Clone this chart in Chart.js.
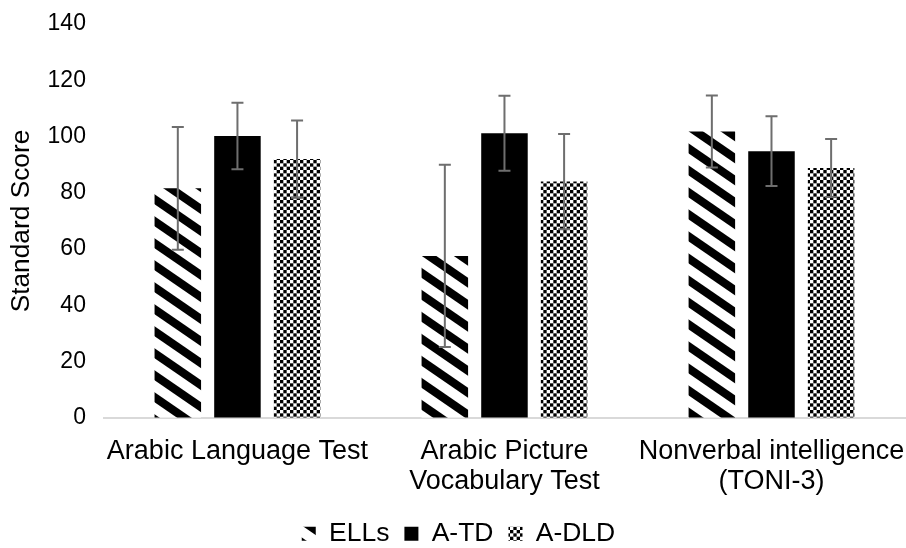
<!DOCTYPE html>
<html>
<head>
<meta charset="utf-8">
<title>Standard Score by Group</title>
<script src="https://cdn.jsdelivr.net/npm/chart.js@4.4.1/dist/chart.umd.min.js"></script>
<style>
  html, body { margin: 0; padding: 0; background: #ffffff; }
  #wrap { width: 906px; height: 548px; position: relative; }
</style>
</head>
<body>
<div id="wrap"><canvas id="chart" width="906" height="548"></canvas></div>
<script>
// Test categories (multi-line labels as arrays)
const categories = [
  'Arabic Language Test',
  ['Arabic Picture', 'Vocabulary Test'],
  ['Nonverbal intelligence', '(TONI-3)']
];

// Group means
const ellsMeans = [81.6, 57.6, 101.8];
const atdMeans  = [100.2, 101.2, 94.8];
const adldMeans = [92.0, 84.0, 88.8];

// Standard deviations (error bars)
const ellsSD = [21.8, 32.4, 12.8];
const atdSD  = [11.8, 13.3, 12.4];
const adldSD = [13.7, 16.9, 10.3];

// Y axis ticks
const yTicks = [0, 20, 40, 60, 80, 100, 120, 140];

const seriesNames = ['ELLs', 'A-TD', 'A-DLD'];

// Wide downward diagonal stripes
function stripePattern() {
  const w = 32, h = 22, t = 10;
  const c = document.createElement('canvas');
  c.width = w; c.height = h;
  const g = c.getContext('2d');
  g.fillStyle = '#ffffff';
  g.fillRect(0, 0, w, h);
  g.fillStyle = '#000000';
  for (let k = -h; k <= h; k += h) {
    g.beginPath();
    g.moveTo(0, k);
    g.lineTo(w, k + h);
    g.lineTo(w, k + h + t);
    g.lineTo(0, k + t);
    g.closePath();
    g.fill();
  }
  return g.createPattern(c, 'repeat');
}

// Fine checkerboard
function checkerPattern() {
  const size = 20, n = 6, cell = size / n;
  const c = document.createElement('canvas');
  c.width = size; c.height = size;
  const g = c.getContext('2d');
  g.fillStyle = '#ffffff';
  g.fillRect(0, 0, size, size);
  g.fillStyle = '#000000';
  for (let i = 0; i < n; i++) {
    for (let j = 0; j < n; j++) {
      if ((i + j) % 2 === 0) g.fillRect(i * cell, j * cell, cell, cell);
    }
  }
  return g.createPattern(c, 'repeat');
}

const sdBySeries = [ellsSD, atdSD, adldSD];
const meansBySeries = [ellsMeans, atdMeans, adldMeans];

// Draws mean ± SD whiskers on top of each bar
const errorBars = {
  id: 'errorBars',
  afterDatasetsDraw(chart) {
    const ctx = chart.ctx;
    const y = chart.scales.y;
    ctx.save();
    ctx.strokeStyle = '#6e6e6e';
    ctx.lineWidth = 2;
    chart.data.datasets.forEach((ds, i) => {
      const meta = chart.getDatasetMeta(i);
      if (meta.hidden) return;
      meta.data.forEach((bar, j) => {
        const m = meansBySeries[i][j], sd = sdBySeries[i][j];
        const yt = y.getPixelForValue(m + sd);
        const yb = y.getPixelForValue(m - sd);
        const x = bar.x, cap = 6;
        ctx.beginPath();
        ctx.moveTo(x, yt); ctx.lineTo(x, yb);
        ctx.moveTo(x - cap, yt); ctx.lineTo(x + cap, yt);
        ctx.moveTo(x - cap, yb); ctx.lineTo(x + cap, yb);
        ctx.stroke();
      });
    });
    ctx.restore();
  }
};

// Nudges the legend row slightly to the right
const legendShift = {
  id: 'legendShift',
  afterLayout(chart) {
    if (chart.legend) {
      chart.legend.left += 6;
      chart.legend.right += 6;
    }
  }
};

const fontFamily = '"Liberation Sans", Arial, sans-serif';
const hiddenTicks = { display: true, drawOnChartArea: false, drawTicks: true, tickLength: 18, color: 'rgba(0,0,0,0)' };

new Chart(document.getElementById('chart'), {
  type: 'bar',
  data: {
    labels: categories,
    datasets: [
      { label: seriesNames[0], data: ellsMeans, backgroundColor: stripePattern(), borderWidth: 0 },
      { label: seriesNames[1], data: atdMeans, backgroundColor: '#000000', borderWidth: 0 },
      { label: seriesNames[2], data: adldMeans, backgroundColor: checkerPattern(), borderWidth: 0 }
    ]
  },
  options: {
    responsive: false,
    animation: false,
    devicePixelRatio: 1,
    layout: { padding: { top: 24, right: 1, left: 0, bottom: -9 } },
    datasets: {
      bar: { categoryPercentage: 0.67, barPercentage: 0.78 }
    },
    scales: {
      x: {
        grid: hiddenTicks,
        border: { display: true, color: '#d9d9d9', width: 2 },
        afterFit(axis) { axis.height += 9; },
        ticks: {
          color: '#000000',
          padding: 0,
          maxRotation: 0,
          autoSkip: false,
          font: { family: fontFamily, size: 27, lineHeight: 1.12 }
        }
      },
      y: {
        min: 0,
        max: 140,
        afterBuildTicks(axis) { axis.ticks = yTicks.map(v => ({ value: v })); },
        grid: hiddenTicks,
        border: { display: false },
        ticks: {
          color: '#000000',
          padding: 0,
          font: { family: fontFamily, size: 23 }
        },
        title: {
          display: true,
          text: 'Standard Score',
          color: '#000000',
          padding: { top: 6, bottom: 10 },
          font: { family: fontFamily, size: 26.3 }
        }
      }
    },
    plugins: {
      legend: {
        position: 'bottom',
        labels: {
          color: '#000000',
          boxWidth: 14,
          boxHeight: 14,
          padding: 15,
          font: { family: fontFamily, size: 26.5 }
        }
      },
      tooltip: { enabled: false }
    }
  },
  plugins: [errorBars, legendShift]
});
</script>
</body>
</html>
